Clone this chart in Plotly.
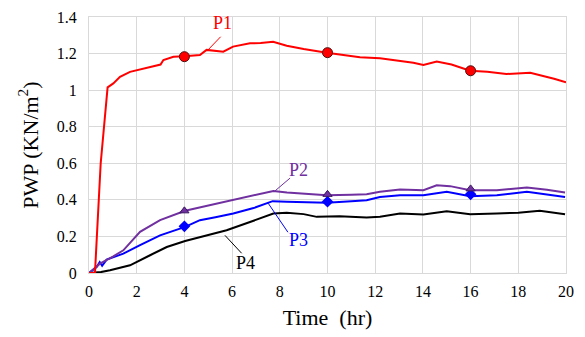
import plotly.graph_objects as go

# ---- data ----
p1_t = [0, 0.25, 0.49, 0.78, 1.02, 1.3, 1.72, 2.28, 2.84, 3.0, 3.12, 3.54, 4.0, 4.65, 4.93, 5.3, 5.63, 6.04, 6.75, 7.2, 7.72, 8.29, 9.0, 9.97, 10.6, 11.36, 12.2, 13.04, 13.6, 14.02, 14.58, 15.2, 15.98, 16.7, 17.5, 18.5, 19.0, 19.5, 20.0]
p1_v = [0, 0, 0.6, 1.015, 1.037, 1.073, 1.10, 1.119, 1.134, 1.14, 1.165, 1.183, 1.185, 1.192, 1.22, 1.215, 1.21, 1.238, 1.256, 1.258, 1.265, 1.243, 1.225, 1.205, 1.195, 1.18, 1.174, 1.161, 1.15, 1.137, 1.156, 1.14, 1.106, 1.10, 1.088, 1.095, 1.08, 1.062, 1.043]

p2_t = [0, 0.46, 1.0, 1.44, 2.14, 2.98, 4.03, 4.65, 5.3, 6.05, 6.9, 7.73, 8.3, 8.85, 9.97, 11.0, 11.64, 12.2, 13.04, 14.02, 14.58, 15.14, 15.98, 17.1, 17.8, 18.36, 19.2, 19.96]
p2_v = [0, 0.051, 0.09, 0.124, 0.225, 0.289, 0.34, 0.358, 0.375, 0.398, 0.425, 0.449, 0.44, 0.435, 0.425, 0.428, 0.431, 0.444, 0.457, 0.453, 0.48, 0.475, 0.453, 0.453, 0.46, 0.468, 0.455, 0.44]

p3_t = [0, 0.2, 0.32, 0.45, 0.55, 0.74, 1.44, 2.14, 2.98, 4.03, 4.65, 5.3, 6.05, 6.9, 7.7, 8.3, 8.85, 9.97, 11.0, 11.64, 12.2, 13.04, 14.02, 15.0, 15.98, 17.1, 18.36, 19.2, 19.96]
p3_v = [0, 0.02, 0.033, 0.06, 0.04, 0.073, 0.106, 0.152, 0.206, 0.252, 0.289, 0.305, 0.325, 0.355, 0.393, 0.39, 0.389, 0.384, 0.392, 0.398, 0.416, 0.425, 0.425, 0.444, 0.42, 0.425, 0.444, 0.43, 0.416]

p4_t = [0, 0.5, 0.88, 1.72, 2.56, 3.26, 4.03, 4.65, 5.77, 6.75, 7.73, 8.29, 9.0, 9.55, 10.5, 11.64, 12.2, 13.04, 14.02, 15.0, 15.98, 17.1, 18.0, 18.9, 19.5, 19.96]
p4_v = [0, 0.005, 0.015, 0.042, 0.097, 0.142, 0.175, 0.197, 0.234, 0.279, 0.325, 0.33, 0.322, 0.307, 0.31, 0.303, 0.307, 0.325, 0.32, 0.338, 0.321, 0.325, 0.33, 0.34, 0.33, 0.321]

mk_t = [4, 10, 16]
p1_mk = [1.183, 1.205, 1.106]
p2_mk = [0.34, 0.43, 0.46]
p3_mk = [0.255, 0.39, 0.43]

series_names = ["P1", "P2", "P3", "P4"]
colors = ["#FF0000", "#7030A0", "#0000FF", "#000000"]

x_ticks = [0, 2, 4, 6, 8, 10, 12, 14, 16, 18, 20]
y_ticks = [0, 0.2, 0.4, 0.6, 0.8, 1.0, 1.2, 1.4]
y_ticktext = ["0", "0.2", "0.4", "0.6", "0.8", "1", "1.2", "1.4"]

# label positions (text centre) and leader line ends
label_pos = [(5.6, 1.365), (8.8, 0.562), (8.8, 0.179), (6.55, 0.053)]
leaders = [((5.52, 1.292), (4.99, 1.22)),
           ((8.43, 0.519), (7.8, 0.449)),
           ((8.34, 0.223), (7.51, 0.382)),
           ((6.4, 0.108), (5.7, 0.206))]

SERIF = "Liberation Serif"

fig = go.Figure()
for t, v, c in [(p4_t, p4_v, colors[3]), (p3_t, p3_v, colors[2]), (p2_t, p2_v, colors[1]), (p1_t, p1_v, colors[0])]:
    fig.add_trace(go.Scatter(x=t, y=v, mode="lines", line=dict(color=c, width=2), showlegend=False))

fig.add_trace(go.Scatter(x=mk_t, y=p3_mk, mode="markers", showlegend=False,
                         marker=dict(symbol="diamond", size=9, color="#0000FF")))
fig.add_trace(go.Scatter(x=mk_t, y=p2_mk, mode="markers", showlegend=False,
                         marker=dict(symbol="triangle-up", size=8, color="#7030A0", line=dict(color="#3a1860", width=1))))
fig.add_trace(go.Scatter(x=mk_t, y=p1_mk, mode="markers", showlegend=False,
                         marker=dict(symbol="circle", size=10, color="#FF0000", line=dict(color="#501010", width=1))))

for name, c, (tx, ty), ((x0, y0), (x1, y1)) in zip(series_names, colors, label_pos, leaders):
    fig.add_annotation(x=tx, y=ty, text=name, showarrow=False,
                       font=dict(family=SERIF, size=18, color=c))
    fig.add_shape(type="line", x0=x0, y0=y0, x1=x1, y1=y1, line=dict(color=c, width=1))

axis_common = dict(showgrid=True, gridcolor="#D9D9D9", gridwidth=1, showline=True,
                   linecolor="#D9D9D9", linewidth=1, mirror=True, zeroline=False,
                   ticks="", automargin=False,
                   tickfont=dict(family=SERIF, size=16, color="#000000"))

fig.update_xaxes(range=[0, 20], tickvals=x_ticks, ticktext=[str(v) for v in x_ticks],
                 ticklabelstandoff=4,
                 title=dict(text="Time\u00a0 (hr)", font=dict(family=SERIF, size=22, color="#000000"), standoff=10),
                 **axis_common)
fig.update_yaxes(range=[0, 1.4], tickvals=y_ticks, ticktext=y_ticktext,
                 ticklabelstandoff=8,
                 title=dict(text="PWP (KN/m<sup>2</sup>)", font=dict(family=SERIF, size=22, color="#000000"), standoff=12),
                 **axis_common)

# page body has an 8px margin, so the figure is offset by 8px
fig.update_layout(width=577, height=329, margin=dict(l=81, r=19, t=9, b=64),
                  paper_bgcolor="white", plot_bgcolor="white")

fig.write_html("out.html")
